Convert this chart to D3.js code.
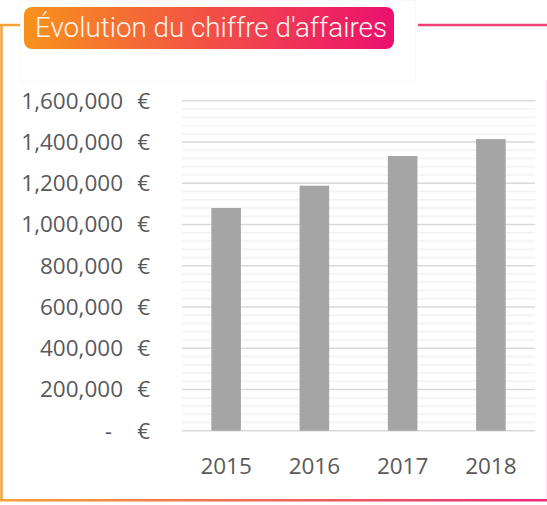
<!DOCTYPE html>
<html>
<head>
<meta charset="utf-8">
<script src="https://cdn.jsdelivr.net/npm/d3@7"></script>
<style>
    body { margin: 0; background: #fff; }
    svg { display: block; }
    .tick-label { font-family: "Open Sans", sans-serif; font-size: 22.5px; fill: #595959; }
</style>
</head>
<body>
<script>

    var years = ["2015", "2016", "2017", "2018"];
    var revenue = [1080000, 1188000, 1332000, 1414000];
    var majorTicks = [0, 200000, 400000, 600000, 800000, 1000000, 1200000, 1400000, 1600000];
    var minorTicks = d3.range(0, 1600001, 40000);
    var title = "Évolution du chiffre d'affaires";

    var width = 547, height = 505;
    var plot = {left: 182, right: 535, top: 100.7, bottom: 430.7};

    var svg = d3.select("body").append("svg")
        .attr("width", width)
        .attr("height", height);

    var defs = svg.append("defs");
    var grad = defs.append("linearGradient").attr("id", "brand");
    grad.append("stop").attr("offset", "0%").attr("stop-color", "#f8921c");
    grad.append("stop").attr("offset", "100%").attr("stop-color", "#ec0f6f");

    var gradFull = defs.append("linearGradient").attr("id", "brandFull")
        .attr("gradientUnits", "userSpaceOnUse")
        .attr("x1", 0).attr("x2", width).attr("y1", 0).attr("y2", 0);
    gradFull.append("stop").attr("offset", "0%").attr("stop-color", "#f7a035");
    gradFull.append("stop").attr("offset", "100%").attr("stop-color", "#ee2a78");

    // frame around the chart
    svg.append("line").attr("x1", 1.5).attr("x2", 1.5).attr("y1", 25).attr("y2", 500)
        .attr("stroke", "#f7a035").attr("stroke-width", 2.5);
    svg.append("line").attr("x1", 0).attr("x2", 24).attr("y1", 25).attr("y2", 25)
        .attr("stroke", "#f7a035").attr("stroke-width", 2.5);
    svg.append("line").attr("x1", 418).attr("x2", width).attr("y1", 25).attr("y2", 25)
        .attr("stroke", "#ef3f74").attr("stroke-width", 2.5);
    svg.append("rect").attr("x", 0).attr("y", 499).attr("width", width).attr("height", 2.5)
        .attr("fill", "url(#brandFull)");
    svg.append("line").attr("x1", 546.5).attr("x2", 546.5).attr("y1", 80).attr("y2", 498)
        .attr("stroke", "#fbe4ef").attr("stroke-width", 1);

    // title panel
    svg.append("rect").attr("x", 20.5).attr("y", 0.5).attr("width", 395).attr("height", 81)
        .attr("fill", "#fff").attr("stroke", "#f8f8fa");
    svg.append("rect").attr("x", 24).attr("y", 7).attr("width", 370).attr("height", 42)
        .attr("rx", 8).attr("fill", "url(#brand)");
    svg.append("text")
        .attr("x", 35).attr("y", 37)
        .attr("textLength", 352).attr("lengthAdjust", "spacingAndGlyphs")
        .style("font-family", "Roboto, sans-serif")
        .style("font-weight", 300)
        .style("font-size", "27px")
        .style("fill", "#fff6ee")
        .text(title);

    var x = d3.scaleBand()
        .domain(years)
        .range([plot.left, plot.right])
        .paddingInner(0.665)
        .paddingOuter(0.3325);

    var y = d3.scaleLinear()
        .domain([0, 1600000])
        .range([plot.bottom, plot.top]);

    // minor gridlines
    svg.append("g").selectAll("line")
        .data(minorTicks.filter(function (d) { return d % 200000 !== 0; }))
        .enter().append("line")
        .attr("x1", plot.left).attr("x2", plot.right)
        .attr("y1", function (d) { return y(d); })
        .attr("y2", function (d) { return y(d); })
        .attr("stroke", "#f2f2f2").attr("stroke-width", 1.5);

    // major gridlines
    svg.append("g").selectAll("line")
        .data(majorTicks)
        .enter().append("line")
        .attr("x1", plot.left).attr("x2", plot.right)
        .attr("y1", function (d) { return y(d); })
        .attr("y2", function (d) { return y(d); })
        .attr("stroke", "#d9d9d9").attr("stroke-width", 1.5);

    svg.append("g").selectAll("rect")
        .data(revenue)
        .enter().append("rect")
        .attr("x", function (d, i) { return x(years[i]); })
        .attr("width", x.bandwidth())
        .attr("y", function (d) { return y(d); })
        .attr("height", function (d) { return y(0) - y(d); })
        .attr("fill", "#a5a5a5");

    // y labels, accounting style: number then euro sign
    var fmt = d3.format(",");
    var yl = svg.append("g").selectAll("g")
        .data(majorTicks)
        .enter().append("g")
        .attr("transform", function (d) { return "translate(0," + y(d) + ")"; });
    yl.append("text")
        .attr("class", "tick-label")
        .attr("x", function (d) { return d === 0 ? 112 : 123; })
        .attr("dy", "0.35em")
        .attr("text-anchor", "end")
        .text(function (d) { return d === 0 ? "-" : fmt(d); });
    yl.append("text")
        .attr("class", "tick-label")
        .attr("x", 150)
        .attr("dy", "0.35em")
        .attr("text-anchor", "end")
        .text("€");

    svg.append("g").selectAll("text")
        .data(years)
        .enter().append("text")
        .attr("class", "tick-label")
        .attr("x", function (d) { return x(d) + x.bandwidth() / 2; })
        .attr("y", 466)
        .attr("dy", "0.35em")
        .attr("text-anchor", "middle")
        .text(function (d) { return d; });

</script>
</body>
</html>
